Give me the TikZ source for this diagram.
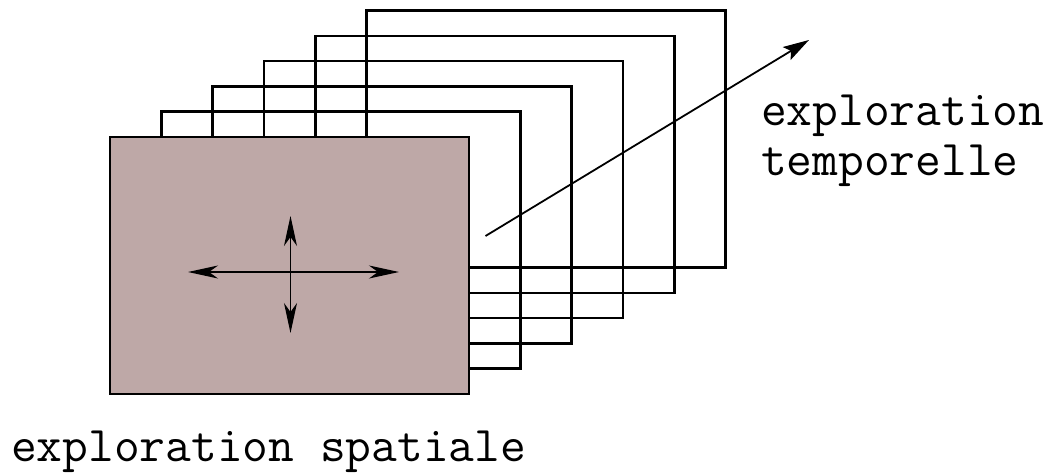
\documentclass[tikz,border=0pt]{standalone}
\usepackage{fontspec}
\usetikzlibrary{arrows.meta}
\definecolor{framefill}{RGB}{190,168,167}
\tikzset{
  frame/.style={draw=black, line width=2.6pt, minimum width=359pt, minimum height=257pt, inner sep=0pt},
  label/.style={font=\ttfamily\fontsize{50}{58}\selectfont, anchor=base west, inner sep=0pt},
  crossarrow/.style={line width=1.4pt, {Stealth[length=30pt,width=13pt,inset=9pt]}-{Stealth[length=30pt,width=13pt,inset=9pt]}},
  timearrow/.style={line width=1.8pt, -{Stealth[length=26pt,width=15pt,inset=5pt]}}
}
\begin{document}
\begin{tikzpicture}[x=1pt,y=-1pt]
\useasboundingbox (0,0) rectangle (1052,474);
\foreach \k in {5,4,3,2,1} {
  \node[frame] (b\k) at ({289.5+51.3*\k},{265.5-25.3*\k}) {};
}
\node[frame, fill=framefill] (front) at (289.5,265.5) {};
\coordinate (cl) at (188,272);
\coordinate (cr) at (399,272);
\coordinate (ct) at (290.5,216);
\coordinate (cb) at (290.5,333);
\draw[crossarrow] (cl) -- (cr);
\draw[crossarrow] (ct) -- (cb);
\coordinate (ts) at (485.5,236);
\coordinate (te) at (809,40);
\draw[timearrow] (ts) -- (te);
\node[label] (t1) at (761,125) {exploration};
\node[label] (t2) at (761,175) {temporelle};
\node[label] (s1) at (11,461) {exploration spatiale};
\end{tikzpicture}
\end{document}
